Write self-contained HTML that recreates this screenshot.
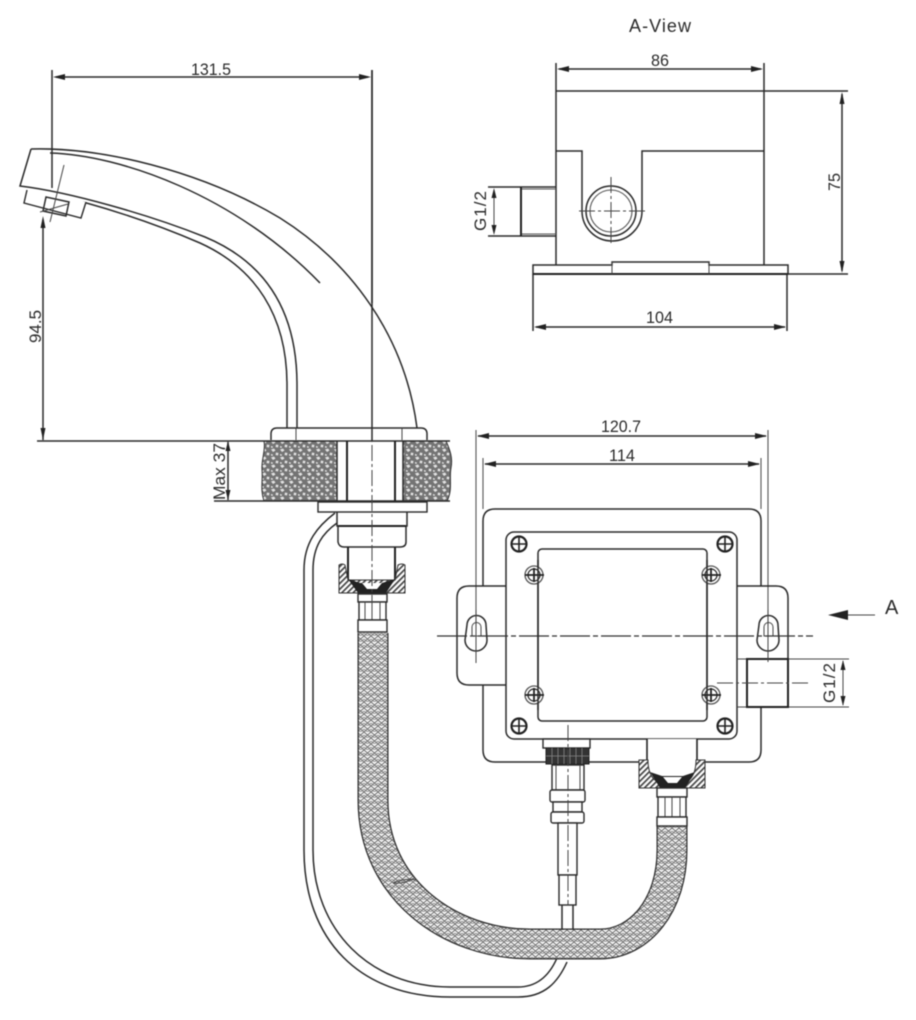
<!DOCTYPE html>
<html><head><meta charset="utf-8">
<style>
html,body{margin:0;padding:0;background:#fff;width:916px;height:1020px;overflow:hidden}
svg{display:block;filter:blur(.4px)}
text{font-family:"Liberation Sans",sans-serif;fill:#2b2b2b;font-size:17px}
.l{fill:none;stroke:#2a2a2a;stroke-width:1.5}
.t{fill:none;stroke:#444;stroke-width:1}
.b{fill:none;stroke:#222;stroke-width:2}
.g{fill:none;stroke:#555;stroke-width:1.1}
.c{fill:none;stroke:#444;stroke-width:1;stroke-dasharray:16 3 3 3}
.w{fill:#fff;stroke:#2a2a2a;stroke-width:1.4}
.a{fill:#222;stroke:none}
</style></head><body>
<svg width="916" height="1020" viewBox="0 0 916 1020" xmlns="http://www.w3.org/2000/svg">
<defs>
<pattern id="stone" width="9" height="8" patternUnits="userSpaceOnUse">
<rect width="9" height="8" fill="#747474"/>
<path d="M1 1.5l3-1 1.5 2-2.5 1.5zM6 4.5l2.5 .5-.5 2.5-2.5-.5zM1 6l2 .5-.5 1.5-1.5-.5z" fill="#e2e2e2"/>
</pattern>
<pattern id="braid" width="7" height="6" patternUnits="userSpaceOnUse">
<rect width="7" height="6" fill="#fff"/>
<path d="M0 0l3.5 3 3.5-3M0 6l3.5-3 3.5 3" fill="none" stroke="#777" stroke-width="1.1"/>
<path d="M0 3l3.5 3 3.5-3" fill="none" stroke="#888" stroke-width=".9"/>
</pattern>
<pattern id="hatch" width="4" height="4" patternUnits="userSpaceOnUse" patternTransform="rotate(-45)">
<rect width="4" height="4" fill="#fff"/><rect width="4" height="1.7" fill="#444"/>
</pattern>
</defs>
<rect width="916" height="1020" fill="#fff"/>

<!-- counter stone -->
<path d="M264 441H337V501H264C260 490 263 480 262 470C261 460 266 450 264 441Z" fill="url(#stone)" stroke="#333"/>
<path d="M403 441H446C450 450 453 458 451 468C449 478 453 490 447 501H403Z" fill="url(#stone)" stroke="#333"/>

<!-- thin tube -->
<path class="l" d="M335 513C318 526 304 542 304 570V850C304 940 360 997 450 997H518C545 997 558 982 567 962"/>
<path class="l" d="M337 523C323 533 313 546 313 570V850C313 930 370 987 450 987H518C538 987 550 974 557 958"/>

<!-- hose -->
<path d="M373 633V800C373 890 450 944 530 944H600C640 944 672 905 672 850V826" fill="none" stroke="#2e2e2e" stroke-width="31"/>
<path d="M373 633V800C373 890 450 944 530 944H600C640 944 672 905 672 850V826" fill="none" stroke="url(#braid)" stroke-width="28.5"/>
<path class="t" d="M393 883C400 880 408 878 417 880M393 883C400 884 408 882 414 878"/>

<!-- faucet -->
<path class="l" d="M31 149C100 147 200 170 280 218C350 262 405 335 417 428"/>
<path class="l" d="M50 153C120 155 235 195 320 283"/>
<path class="l" d="M31 149L20 186C70 192 150 215 205 237C265 262 297 310 297 385V428"/>
<path class="l" d="M83 202C130 215 170 230 200 243C255 268 287 315 287 385V428"/>
<path class="w" d="M27 190L24 203L81 218L86 202"/>
<path class="l" d="M46 197L43 211L66 216L69 202Z"/>
<path class="t" d="M64 165L50 222M40 212L68 204"/>

<!-- base -->
<path class="l" d="M271 440V434Q271 428 277 428H421Q427 428 427 434V440"/>
<path class="t" d="M296 428V440M402 428V440"/>
<path class="l" d="M37 441H450M214 501H450"/>
<path class="b" d="M347 441V501M395 441V501"/>
<path class="l" d="M337 441V501M403 441V501"/>
<rect class="w" x="318" y="502" width="109" height="10"/>
<path class="l" d="M337 512V526H407V512"/>
<path class="b" d="M338 526H406"/>
<path class="l" d="M338 526V542Q339 547 344 547H400Q406 547 406 542V526"/>
<path class="b" d="M348 547V580M395 547V580"/>
<path d="M339 565Q342 563 345 565L348 580H395L398 565Q402 563 405 565V593H339Z" fill="url(#hatch)" stroke="#333"/>
<path d="M348 579L358 593H386L395 579L382 583H360Z" fill="#222"/>
<path d="M362 583H382L377 589H367Z" fill="#fff"/>
<rect class="w" x="358" y="594" width="29" height="8"/>
<rect class="w" x="359" y="602" width="27" height="18"/>
<path class="t" d="M365 602V620M372 602V620M380 602V620"/>
<rect class="w" x="358" y="620" width="29" height="12"/>
<path class="c" d="M372 70V620"/>
<path class="l" d="M372 70V441"/>

<!-- left dims -->
<path class="l" d="M52 70V188M372 70V303"/>
<path class="l" d="M56 77H368"/>
<path class="a" d="M53 77l12-3v6zM371 77l-12-3v6z"/>
<text x="191" y="75" textLength="40" lengthAdjust="spacingAndGlyphs">131.5</text>
<path class="l" d="M43 220V440"/>
<path class="a" d="M43 216l-2.5 12h5zM43 440l-2.5-12h5z"/>
<text transform="translate(41 343) rotate(-90)" textLength="33" lengthAdjust="spacingAndGlyphs">94.5</text>
<path class="l" d="M228 442V500"/>
<path class="a" d="M228 441l-2.5 10h5zM228 500l-2.5-10h5z"/>
<text transform="translate(225 500) rotate(-90)" textLength="57" lengthAdjust="spacingAndGlyphs">Max 37</text>

<!-- A-View -->
<text x="629" y="32" style="font-size:18px" textLength="62" lengthAdjust="spacing">A-View</text>
<text x="651" y="66" textLength="18" lengthAdjust="spacingAndGlyphs">86</text>
<path class="l" d="M556 63V265M764 63V265"/>
<path class="l" d="M559 69H761"/>
<path class="a" d="M557 69l12-3v6zM763 69l-12-3v6z"/>
<path class="l" d="M556 91H848M556 151H582V211A30 30 0 0 0 642 211V151H764"/>
<circle class="l" cx="611" cy="211" r="25"/>
<circle class="g" cx="611" cy="211" r="21"/>
<path class="c" d="M579 211H648M611 177V245" stroke-dasharray="14 2 3 2"/>
<path class="l" d="M488 187H556M488 236H556"/>
<path class="g" d="M520 189H556M520 234H556"/>
<path class="b" d="M521 187V236"/>
<path class="t" d="M494 190V233"/>
<path class="a" d="M494 188l-2.5 10h5zM494 235l-2.5-10h5z"/>
<text transform="translate(486 231) rotate(-90)" textLength="40" lengthAdjust="spacing">G1/2</text>
<path class="l" d="M533 265H612V262H709V265H788V274H533Z"/>
<path class="b" d="M533 274H788"/>
<path class="t" d="M612 262V274M709 262V274"/>
<path class="l" d="M788 274H848"/>
<path class="l" d="M842 94V271"/>
<path class="a" d="M842 92l-2.5 12h5zM842 273l-2.5-12h5z"/>
<text transform="translate(840 191) rotate(-90)" textLength="18" lengthAdjust="spacingAndGlyphs">75</text>
<path class="l" d="M533 274V331M787 274V331"/>
<path class="l" d="M536 327H785"/>
<path class="a" d="M534 327l12-3v6zM786 327l-12-3v6z"/>
<text x="646" y="323" textLength="27" lengthAdjust="spacingAndGlyphs">104</text>

<!-- box dims -->
<path class="g" d="M476 430V625M768 430V625M483 458V509M761 458V509"/>
<path class="l" d="M478 436H766M485 464H759"/>
<path class="a" d="M477 436l12-3v6zM767 436l-12-3v6zM484 464l12-3v6zM760 464l-12-3v6z"/>
<text x="601" y="432" textLength="40" lengthAdjust="spacingAndGlyphs">120.7</text>
<text x="609" y="461" textLength="26" lengthAdjust="spacingAndGlyphs">114</text>

<!-- box -->
<path class="l" d="M483 586V521Q483 509 495 509H749Q761 509 761 521V586"/>
<path class="l" d="M483 685V750Q483 762 495 762H639M705 762H749Q761 762 761 750V707"/>
<path class="l" d="M506 586H469Q457 586 457 598V673Q457 685 469 685H506"/>
<path class="l" d="M737 586H776Q788 586 788 598V659"/>
<rect class="l" x="506" y="532" width="231" height="207" rx="8"/>
<rect class="l" x="538" y="549" width="169" height="172" rx="4"/>
<path class="t" d="M737 659H849M737 707H849"/>
<rect x="747" y="659" width="41" height="48" fill="#fff" stroke="#222" stroke-width="2"/>
<path class="c" d="M717 683H810"/>
<path class="t" d="M843 661V705"/>
<path class="a" d="M843 660l-2.5 10h5zM843 706l-2.5-10h5z"/>
<text transform="translate(835 703) rotate(-90)" textLength="40" lengthAdjust="spacing">G1/2</text>

<!-- slots -->
<path class="l" d="M467 625A9.5 9.5 0 0 1 486 625L487 640A11 11 0 1 1 465 640Z"/>
<path class="t" d="M472 627A4.5 4.5 0 0 1 481 627L481 636H472Z"/>
<path class="l" d="M759 625A9.5 9.5 0 0 1 778 625L779 640A11 11 0 1 1 757 640Z"/>
<path class="t" d="M764 627A4.5 4.5 0 0 1 773 627L773 636H764Z"/>
<path class="t" d="M476 610V663M768 610V662"/>
<path d="M437 636H813" fill="none" stroke="#333" stroke-width="1.2" stroke-dasharray="30 3 5 3"/>

<!-- screws -->
<g fill="#fff" stroke="#222">
<g stroke-width="2.2"><circle cx="519" cy="544" r="7.5"/><circle cx="725" cy="544" r="7.5"/><circle cx="519" cy="726" r="7.5"/><circle cx="725" cy="726" r="7.5"/></g>
<path stroke-width="1.6" d="M512 544H526M519 537V551M718 544H732M725 537V551M512 726H526M519 719V733M718 726H732M725 719V733"/>
<g stroke="#555" stroke-width="1.3"><circle cx="534" cy="575" r="9"/><circle cx="711" cy="575" r="9"/><circle cx="534" cy="695" r="9"/><circle cx="711" cy="695" r="9"/></g>
<g stroke-width="1.2"><circle cx="534" cy="575" r="6"/><circle cx="711" cy="575" r="6"/><circle cx="534" cy="695" r="6"/><circle cx="711" cy="695" r="6"/></g>
<path stroke-width="1.8" d="M525 575H544M534 568V582M702 575H721M711 568V582M525 695H544M534 688V702M702 695H721M711 688V702"/>
</g>
<path class="l" d="M538 560V710M707 560V710"/>

<!-- arrow A -->
<path class="t" d="M835 615H875"/>
<path class="a" d="M828 615l20-5v10z"/>
<text x="885" y="614" style="font-size:20px">A</text>

<!-- left connector -->
<rect class="w" x="543" y="739" width="47" height="9"/>
<rect x="546" y="748" width="43" height="16" fill="#333" stroke="#222"/>
<path d="M552 748v16M558 748v16M564 748v16M570 748v16M576 748v16M582 748v16M546 756h43" stroke="#888" stroke-width=".8" fill="none"/>
<rect class="w" x="552" y="765" width="32" height="25"/>
<path class="t" d="M556 765V790M580 765V790"/>
<rect class="w" x="550" y="790" width="35" height="12" rx="2"/>
<rect class="w" x="553" y="802" width="29" height="10"/>
<rect class="w" x="551" y="812" width="33" height="11" rx="2"/>
<rect class="w" x="558" y="823" width="19" height="52"/>
<rect class="w" x="559" y="875" width="17" height="30"/>
<path class="l" d="M562 905V930M573 905V930"/>
<path class="c" d="M568 725V905" stroke-dasharray="12 4"/>

<!-- right connector -->
<path d="M647 739V762Q647 775 655 781H690Q697 775 697 762V739" fill="#fff" stroke="#222" stroke-width="1.6"/>
<path d="M639 760H648Q648 775 656 781L665 788H639ZM705 760H696Q696 775 688 781L680 788H705Z" fill="url(#hatch)" stroke="#333"/>
<path d="M650 772L660 788H685L695 772L683 776H662Z" fill="#222"/>
<path d="M663 777H682L677 783H668Z" fill="#fff"/>
<rect class="w" x="657" y="788" width="30" height="9"/>
<rect class="w" x="658" y="797" width="28" height="20"/>
<path class="t" d="M665 797V817M672 797V817M680 797V817"/>
<rect class="w" x="657" y="817" width="30" height="9"/>
</svg>
</body></html>
